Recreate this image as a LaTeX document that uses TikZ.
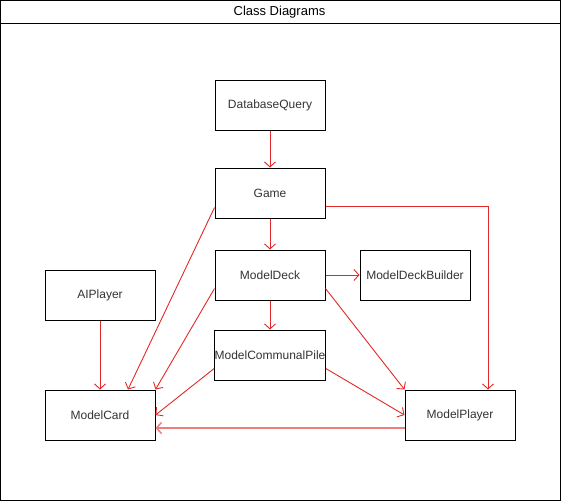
\documentclass[tikz,border=0pt]{standalone}
\usepackage{fontspec}
\setmainfont{Liberation Sans}
\usepackage{xcolor}
\usepackage{tikz}
\usetikzlibrary{arrows.meta}

\definecolor{linkred}{RGB}{226,40,40}

\begin{document}
\begin{tikzpicture}[x=1pt,y=-1pt]
      \tikzstyle{cls}=[rectangle,draw=black,line width=1pt,minimum width=110pt,minimum height=50pt,inner sep=0pt,font=\fontsize{12}{14}\selectfont,text=black!80]
      \tikzstyle{link}=[draw=linkred,line width=0.9pt,-{Straight Barb[length=5pt,width=11pt]}]
      \useasboundingbox (0,0) rectangle (561,501);
      \draw[line width=1pt] (0.5,0.5) rectangle (560,500);
      \draw[line width=1pt] (0.5,23) -- (560,23);
      \node[font=\fontsize{13}{15}\selectfont] (title) at (279.5,12) {Class Diagrams};
      \node[cls] (dbq) at (270, 105) {DatabaseQuery};
      \node[cls] (game) at (270, 193) {Game};
      \node[cls] (deck) at (270, 275) {ModelDeck};
      \node[cls] (builder) at (415, 275) {ModelDeckBuilder};
      \node[cls] (ai) at (100, 295) {AIPlayer};
      \node[cls] (pile) at (270, 355) {ModelCommunalPile};
      \node[cls] (card) at (100, 415) {ModelCard};
      \node[cls] (player) at (460, 415) {ModelPlayer};
      \draw[link] (dbq) -- (game);
      \draw[link] (game) -- (deck);
      \draw[link] (deck) -- (pile);
      \draw[link] (deck) -- (builder);
      \draw[link] (ai) -- (card);
      \draw[link] ([yshift=11pt]game.south west) -- ([xshift=28pt]card.north);
      \draw[link] ([yshift=12pt]deck.south west) -- (card.north east);
      \draw[link] ([yshift=12pt]pile.south west) -- (card.east);
      \draw[link] ([yshift=-13pt]game.east) -| ([xshift=28pt]player.north);
      \draw[link] ([yshift=12pt]deck.south east) -- (player.north west);
      \draw[link] ([yshift=12pt]pile.south east) -- (player.west);
      \draw[link,line width=1.5pt,draw=linkred!60] ([yshift=-13pt]player.west) -- ([yshift=-13pt]card.east);
    \end{tikzpicture}
\end{document}
